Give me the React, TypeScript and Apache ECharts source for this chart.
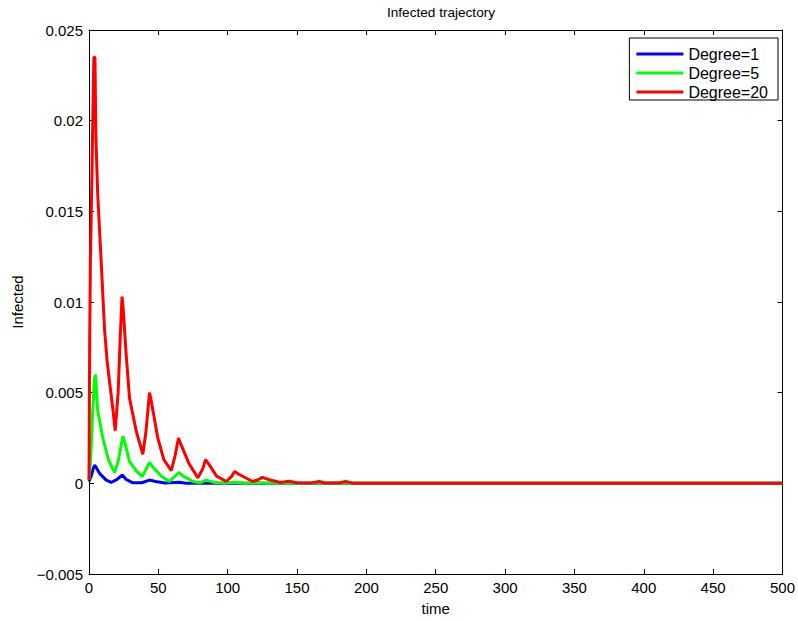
import React, { useEffect, useRef } from "react";
import * as echarts from "echarts";

const chartTitle = "Infected trajectory";
const xName = "time";
const yName = "Infected";
const seriesNames = ["Degree=1", "Degree=5", "Degree=20"];
const seriesColors = ["#0000ff", "#00ff00", "#ff0000"];

const tBlue = [0, 1.6, 3, 4, 5, 7.6, 12.4, 16, 20, 24, 27, 31.6, 38, 43.6, 48, 55, 65, 70, 85, 90, 500];
const infectedBlue = [0.0001, 0.0004, 0.0008, 0.001, 0.0009, 0.00055, 0.00018, 0.00005, 0.0002, 0.00046, 0.0002, 0.00003, 0.00003, 0.00018, 0.0001, 0.00002, 0.00006, 0.00001, 0.00001, 0, 0];

const tGreen = [0, 1, 1.6, 2.7, 4, 4.7, 5.5, 6.3, 10, 14, 18.4, 21, 24.4, 26, 29.2, 34, 38.4, 43.6, 46, 52, 58, 64.7, 68, 75, 80, 84.5, 90, 98, 105, 112, 125, 130, 500];
const infectedGreen = [0.0002, 0.0012, 0.002, 0.004, 0.0058, 0.006, 0.005, 0.004, 0.0025, 0.0013, 0.0006, 0.0012, 0.0026, 0.0022, 0.0012, 0.0007, 0.00037, 0.00115, 0.0009, 0.0004, 0.0001, 0.0006, 0.0004, 0.0001, 0.00003, 0.00018, 0.00005, 0.00001, 0.00006, 0.00001, 0.00002, 0, 0];

const tRed = [0, 0.5, 1, 2, 3, 3.5, 4.3, 5, 6.3, 8.8, 11.2, 13.1, 17.2, 18.9, 21, 22.5, 23.8, 24.5, 26.8, 29.2, 34, 38.8, 41, 43.6, 44.5, 49.6, 54, 59.3, 62, 64.5, 66, 72, 78.5, 82, 84, 86, 92, 99, 103, 105, 108, 118, 122, 125, 130, 138, 144, 150, 160, 166, 170, 180, 185, 190, 200, 500];
const infectedRed = [0.0002, 0.008, 0.0122, 0.0165, 0.0213, 0.0235, 0.0235, 0.019, 0.0159, 0.0122, 0.0085, 0.0067, 0.0041, 0.0029, 0.005, 0.008, 0.0103, 0.0098, 0.0071, 0.0047, 0.0029, 0.0016, 0.0028, 0.005, 0.0047, 0.0025, 0.0013, 0.0007, 0.0015, 0.0025, 0.0022, 0.0011, 0.0003, 0.0008, 0.0013, 0.0011, 0.0004, 0.0001, 0.0004, 0.00065, 0.0005, 0.0001, 0.0002, 0.00033, 0.0002, 0.00005, 0.00012, 0.00003, 0.00002, 0.0001, 0.00002, 0.00002, 0.0001, 0.00001, 0, 0];

const xMin = 0, xMax = 500, xStep = 50;
const yMin = -0.005, yMax = 0.025, yStep = 0.005;

const zip = (t: number[], v: number[]) => t.map((x, i) => [x, v[i]]);

const FONT = "'Liberation Sans', Arial, Helvetica, sans-serif";

export default function App() {
  const ref = useRef<HTMLDivElement>(null);
  useEffect(() => {
    if (!ref.current) return;
    const chart = echarts.init(ref.current, undefined, { renderer: "svg" });
    const yFmt = (v: number) => {
      const r = Math.round(v * 1000) / 1000;
      if (r === 0) return "0";
      const s = String(r);
      return s.replace("-", "\u2212");
    };
    const baseAxis = {
      axisLine: { show: true, onZero: false, lineStyle: { color: "#000", width: 1 } },
      axisTick: { show: true, inside: true, length: 5, lineStyle: { color: "#000" } },
      splitLine: { show: false },
    };
    const datas = [zip(tBlue, infectedBlue), zip(tGreen, infectedGreen), zip(tRed, infectedRed)];
    chart.setOption({
      animation: false,
      backgroundColor: "#fff",
      textStyle: { fontFamily: FONT },
      title: {
        text: chartTitle,
        left: 436,
        top: 0,
        textAlign: "center",
        textStyle: { fontSize: 13.6, fontWeight: "normal", color: "#000", fontFamily: FONT },
      },
      grid: { left: 89, right: 15, top: 30, bottom: 45, containLabel: false },
      legend: {
        orient: "vertical",
        right: 20,
        top: 38,
        data: seriesNames.map((n) => ({ name: n, icon: "rect" })),
        backgroundColor: "#fff",
        borderColor: "#000",
        borderWidth: 1,
        padding: [8, 10, 0, 7],
        itemGap: 3,
        itemWidth: 47,
        itemHeight: 3,
        textStyle: { fontSize: 16, color: "#000", fontFamily: FONT },
      },
      xAxis: [
        {
          ...baseAxis,
          type: "value",
          min: xMin,
          max: xMax,
          interval: xStep,
          position: "bottom",
          name: xName,
          nameLocation: "middle",
          nameGap: 27,
          nameTextStyle: { fontSize: 15, color: "#000", fontFamily: FONT },
          axisLabel: { fontSize: 15, color: "#000", margin: 6, fontFamily: FONT },
        },
        {
          ...baseAxis,
          type: "value",
          min: xMin,
          max: xMax,
          interval: xStep,
          position: "top",
          axisLabel: { show: false },
        },
      ],
      yAxis: [
        {
          ...baseAxis,
          type: "value",
          min: yMin,
          max: yMax,
          interval: yStep,
          position: "left",
          name: yName,
          nameLocation: "middle",
          nameGap: 64,
          nameTextStyle: { fontSize: 15, color: "#000", fontFamily: FONT },
          axisLabel: { fontSize: 15, color: "#000", margin: 6, fontFamily: FONT, formatter: yFmt },
        },
        {
          ...baseAxis,
          type: "value",
          min: yMin,
          max: yMax,
          interval: yStep,
          position: "right",
          axisLabel: { show: false },
        },
      ],
      series: seriesNames.map((name, i) => ({
        name,
        type: "line",
        data: datas[i],
        showSymbol: false,
        symbol: "none",
        lineStyle: { color: seriesColors[i], width: 3 },
        itemStyle: { color: seriesColors[i] },
        z: 2 + i,
      })),
    });
    return () => chart.dispose();
  }, []);
  return (
    <div
      ref={ref}
      style={{ position: "fixed", left: 0, top: 0, width: 798, height: 621, background: "#fff" }}
    />
  );
}
